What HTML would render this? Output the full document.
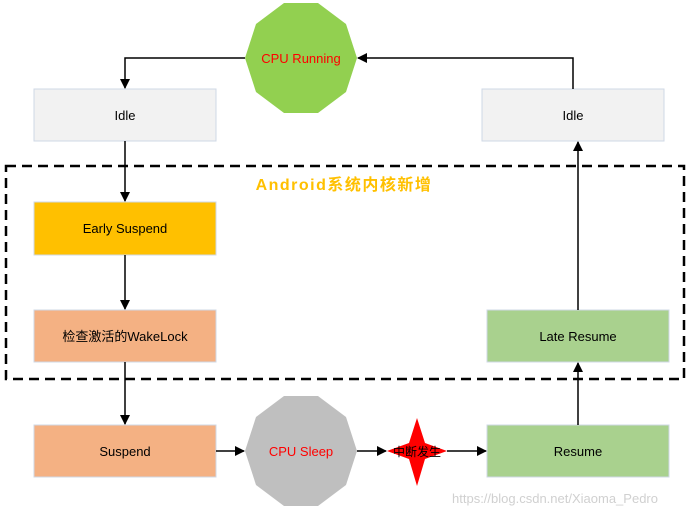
<!DOCTYPE html>
<html><head><meta charset="utf-8"><style>
body{margin:0;background:#fff}
svg text{font-family:"Liberation Sans","Noto Sans CJK SC",sans-serif}
</style></head><body>
<svg width="690" height="516" viewBox="0 0 690 516" xmlns="http://www.w3.org/2000/svg">
<defs><marker id="a" markerWidth="10" markerHeight="10" refX="9" refY="5" orient="auto" markerUnits="userSpaceOnUse"><path d="M0,0 L10,5 L0,10 z" fill="#000"/></marker></defs>
<rect x="6" y="166" width="678" height="213" fill="none" stroke="#000" stroke-width="2.5" stroke-dasharray="10,6"/>
<text x="344" y="190" text-anchor="middle" font-size="16" letter-spacing="1.5" font-weight="bold" fill="#FFC000" font-family="Liberation Mono, Noto Sans CJK SC, monospace">Android系统内核新增</text>
<g stroke="#cfd8e6" stroke-width="1">
<rect x="34" y="89" width="182" height="52" fill="#f2f2f2"/>
<rect x="482" y="89" width="182" height="52" fill="#f2f2f2"/>
<rect x="34" y="202" width="182" height="53" fill="#FFC000"/>
<rect x="34" y="310" width="182" height="52" fill="#F4B183"/>
<rect x="487" y="310" width="182" height="52" fill="#A9D18E"/>
<rect x="34" y="425" width="182" height="52" fill="#F4B183"/>
<rect x="487" y="425" width="182" height="52" fill="#A9D18E"/>
</g>
<polygon fill="#92D050" points="357,58 346,24 318,3 284,3 256,24 245,58 256,92 284,113 318,113 346,92"/>
<polygon fill="#BFBFBF" points="357,451 346,417 318,396 284,396 256,417 245,451 256,485 284,506 318,506 346,485"/>
<polygon fill="#FF0000" points="417,418 425,443 447,451 425,459 417,486 409,459 387,451 409,443"/>
<g font-size="13" text-anchor="middle" fill="#000">
<text x="125" y="120">Idle</text>
<text x="573" y="120">Idle</text>
<text x="125" y="233">Early Suspend</text>
<text x="125" y="341">检查激活的WakeLock</text>
<text x="578" y="341">Late Resume</text>
<text x="125" y="456">Suspend</text>
<text x="578" y="456">Resume</text>
<text x="301" y="63" fill="#FF0000">CPU Running</text>
<text x="301" y="456" fill="#FF0000">CPU Sleep</text>
<text x="417" y="456" font-size="12">中断发生</text>
</g>
<g stroke="#000" stroke-width="1.5" fill="none" marker-end="url(#a)">
<path d="M245,58 H125 V88"/>
<path d="M125,141 V201"/>
<path d="M125,255 V309"/>
<path d="M125,362 V424"/>
<path d="M216,451 H244"/>
<path d="M357,451 H386"/>
<path d="M447,451 H486"/>
<path d="M578,425 V363"/>
<path d="M578,310 V142"/>
<path d="M573,89 V58 H358"/>
</g>
<text x="555" y="503" font-size="13" fill="#d0d0d0" text-anchor="middle">https://blog.csdn.net/Xiaoma_Pedro</text>
</svg>
</body></html>
